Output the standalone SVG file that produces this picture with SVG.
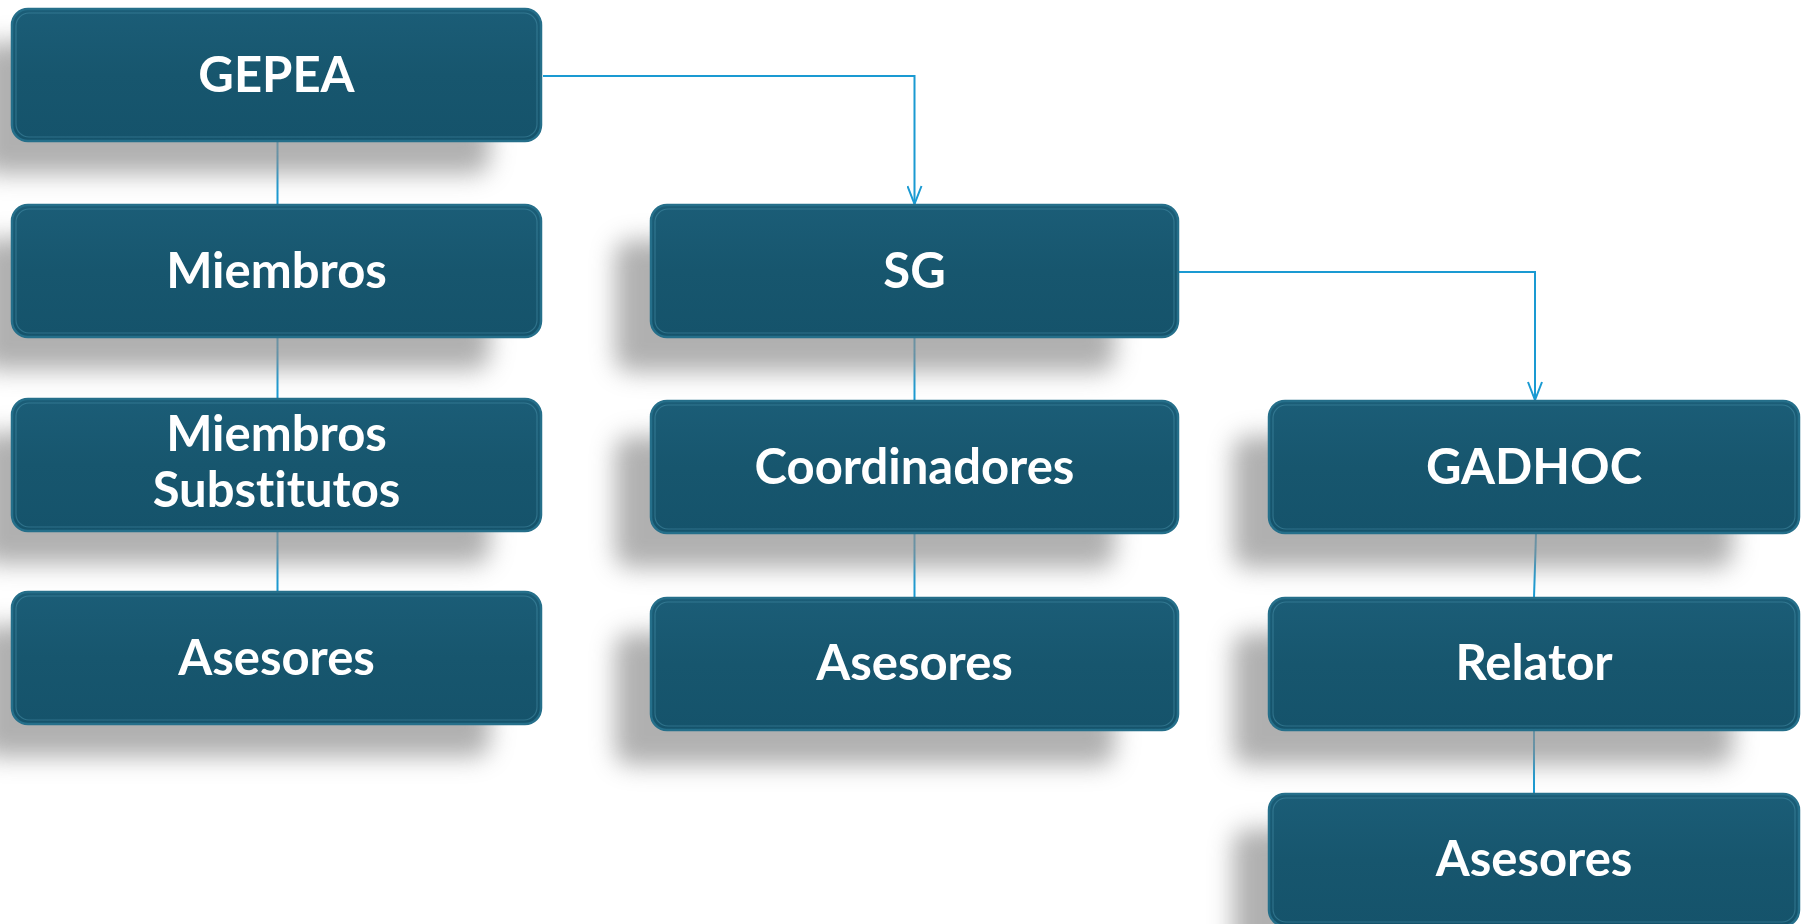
<svg xmlns="http://www.w3.org/2000/svg" width="1806" height="924" viewBox="0 0 1806 924">
<defs>
<linearGradient id="boxFill" x1="0" y1="0" x2="0" y2="1">
<stop offset="0" stop-color="#1b5d77"/>
<stop offset="0.5" stop-color="#17566e"/>
<stop offset="1" stop-color="#15536b"/>
</linearGradient>
<filter id="shadow" x="-20%" y="-40%" width="140%" height="180%">
<feGaussianBlur stdDeviation="12"/>
</filter>
<marker id="arrow" viewBox="0 0 20 16" refX="19" refY="8" markerWidth="20" markerHeight="16" markerUnits="userSpaceOnUse" orient="auto">
<path d="M1,1 L19,8 L1,15" fill="none" stroke="#1a9ad2" stroke-width="2"/>
</marker>
</defs>
<style>
.shadow{fill:#8f8f8f;opacity:0.7;filter:url(#shadow)}
.box{fill:url(#boxFill);stroke:#256f8a;stroke-width:2.5}
.bevel{fill:none;stroke:#5fa8c2;stroke-width:1.2;opacity:0.35}
.label{font-family:"Lato","Open Sans",sans-serif;font-weight:bold;font-size:49px;fill:#ffffff;text-anchor:middle;font-variant-ligatures:none;font-feature-settings:"liga" 0}
.conn{fill:none;stroke:#1a9ad2;stroke-width:2}
</style>
<rect width="1806" height="924" fill="#ffffff"/>

<g id="connectors">
<path class="conn" d="M543,76 H914.5 V204" marker-end="url(#arrow)"/>
<path class="conn" d="M1178,272 H1535 V400" marker-end="url(#arrow)"/>
<line class="conn" x1="277.5" y1="141" x2="277.5" y2="205"/>
<line class="conn" x1="277.5" y1="338" x2="277.5" y2="399"/>
<line class="conn" x1="277.5" y1="531" x2="277.5" y2="592"/>
<line class="conn" x1="914.5" y1="338" x2="914.5" y2="401"/>
<line class="conn" x1="914.5" y1="533" x2="914.5" y2="598"/>
<line class="conn" x1="1536" y1="533" x2="1534" y2="598"/>
<line class="conn" x1="1534" y1="730" x2="1534" y2="794"/>
</g>

<g id="gepea">
<rect class="shadow" x="-20" y="42" width="510" height="132" rx="16"/>
<rect class="box" x="12" y="9" width="529" height="132" rx="16"/>
<rect class="bevel" x="16" y="13" width="521" height="124" rx="13"/>
<text class="label" x="276.5" y="92">GEPEA</text>
</g>

<g id="miembros">
<rect class="shadow" x="-20" y="238" width="510" height="132" rx="16"/>
<rect class="box" x="12" y="205" width="529" height="132" rx="16"/>
<rect class="bevel" x="16" y="209" width="521" height="124" rx="13"/>
<text class="label" x="276.5" y="288">Miembros</text>
</g>

<g id="miembros-substitutos">
<rect class="shadow" x="-20" y="432" width="510" height="132" rx="16"/>
<rect class="box" x="12" y="399" width="529" height="132" rx="16"/>
<rect class="bevel" x="16" y="403" width="521" height="124" rx="13"/>
<text class="label" x="276.5" y="451">Miembros</text>
<text class="label" x="276.5" y="507">Substitutos</text>
</g>

<g id="asesores-1">
<rect class="shadow" x="-20" y="625" width="510" height="132" rx="16"/>
<rect class="box" x="12" y="592" width="529" height="132" rx="16"/>
<rect class="bevel" x="16" y="596" width="521" height="124" rx="13"/>
<text class="label" x="276.5" y="675">Asesores</text>
</g>

<g id="sg">
<rect class="shadow" x="615" y="240" width="500" height="132" rx="16"/>
<rect class="box" x="651" y="205" width="527" height="132" rx="16"/>
<rect class="bevel" x="655" y="209" width="519" height="124" rx="13"/>
<text class="label" x="914.5" y="288">SG</text>
</g>

<g id="coordinadores">
<rect class="shadow" x="615" y="436" width="500" height="132" rx="16"/>
<rect class="box" x="651" y="401" width="527" height="132" rx="16"/>
<rect class="bevel" x="655" y="405" width="519" height="124" rx="13"/>
<text class="label" x="914.5" y="484">Coordinadores</text>
</g>

<g id="asesores-2">
<rect class="shadow" x="615" y="633" width="500" height="132" rx="16"/>
<rect class="box" x="651" y="598" width="527" height="132" rx="16"/>
<rect class="bevel" x="655" y="602" width="519" height="124" rx="13"/>
<text class="label" x="914.5" y="680">Asesores</text>
</g>

<g id="gadhoc">
<rect class="shadow" x="1233" y="436" width="500" height="132" rx="16"/>
<rect class="box" x="1269" y="401" width="530" height="132" rx="16"/>
<rect class="bevel" x="1273" y="405" width="522" height="124" rx="13"/>
<text class="label" x="1534" y="484">GADHOC</text>
</g>

<g id="relator">
<rect class="shadow" x="1233" y="633" width="500" height="132" rx="16"/>
<rect class="box" x="1269" y="598" width="530" height="132" rx="16"/>
<rect class="bevel" x="1273" y="602" width="522" height="124" rx="13"/>
<text class="label" x="1534" y="680">Relator</text>
</g>

<g id="asesores-3">
<rect class="shadow" x="1233" y="829" width="500" height="132" rx="16"/>
<rect class="box" x="1269" y="794" width="530" height="132" rx="16"/>
<rect class="bevel" x="1273" y="798" width="522" height="124" rx="13"/>
<text class="label" x="1534" y="876">Asesores</text>
</g>
</svg>
